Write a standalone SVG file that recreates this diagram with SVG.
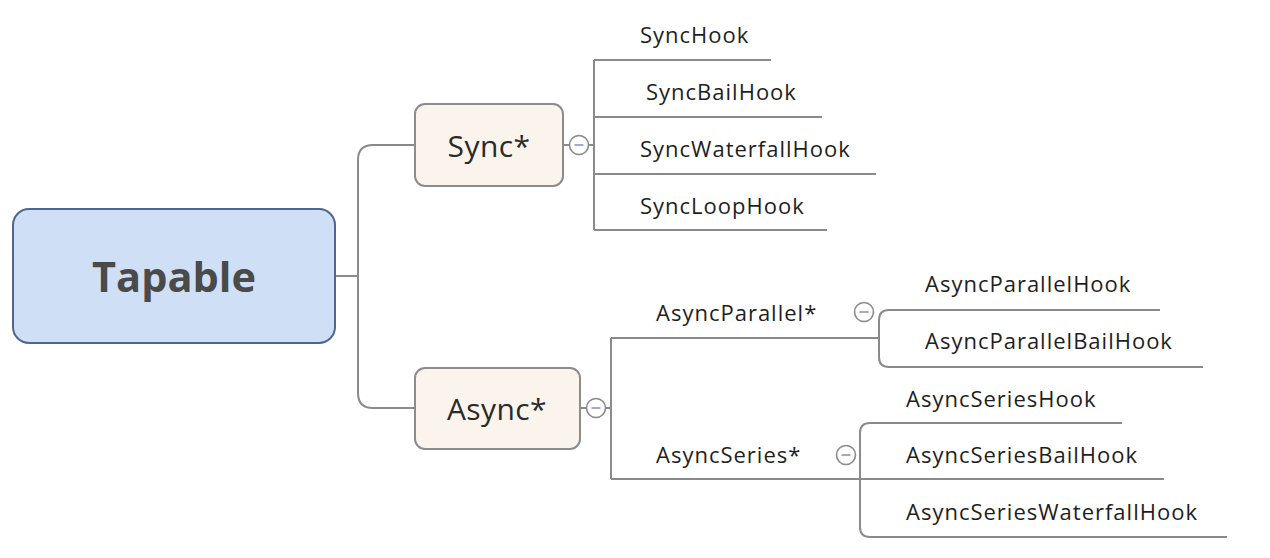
<svg xmlns="http://www.w3.org/2000/svg" width="1270" height="558" viewBox="0 0 1270 558">
  <style>
    .line { fill: none; stroke: #8a8a8a; stroke-width: 2; }
    .root { fill: #cfdff6; stroke: #4f6690; stroke-width: 2; }
    .topic { fill: #faf4ec; stroke: #8c8c8c; stroke-width: 2; }
    .root-text { font-family: "Open Sans", "Liberation Sans", sans-serif; font-size: 41.5px; font-weight: bold; fill: #4a4a4a; text-anchor: middle; }
    .topic-text { font-family: "Open Sans", "Liberation Sans", sans-serif; font-size: 30px; letter-spacing: 0.4px; fill: #2a2a2a; text-anchor: middle; }
    .leaf-text { font-family: "Open Sans", "Liberation Sans", sans-serif; font-size: 22px; letter-spacing: 1px; fill: #1e1e1e; }
    .toggle { fill: #ffffff; stroke: #8a8a8a; stroke-width: 1.6; }
    .minus { stroke: #8f93c2; stroke-width: 1.6; }
  </style>
  <defs>
    <g id="collapse">
      <circle class="toggle" cx="0" cy="0" r="9.5"/>
      <line class="minus" x1="-4.5" y1="0" x2="4.5" y2="0"/>
    </g>
  </defs>
  <rect width="1270" height="558" fill="#ffffff"/>

  <!-- connectors -->
  <g id="connectors">
    <!-- root to Sync* / Async* -->
    <path class="line" d="M335,276 H358"/>
    <path class="line" d="M415,145 H373 Q358,145 358,160 V393 Q358,408 373,408 H415"/>
    <!-- Sync* to its hooks -->
    <path class="line" d="M563,145 H594"/>
    <path class="line" d="M594,60 V230"/>
    <!-- Async* to its groups -->
    <path class="line" d="M580,408 H611"/>
    <path class="line" d="M611,338 V479"/>
    <path class="line" d="M611,338 H879"/>
    <path class="line" d="M611,479 H860"/>
    <!-- AsyncParallel* bracket -->
    <path class="line" d="M879,320 Q879,310 889,310"/>
    <path class="line" d="M879,320 V357 Q879,367 889,367"/>
    <!-- AsyncSeries* bracket -->
    <path class="line" d="M860,433 Q860,423 870,423"/>
    <path class="line" d="M860,433 V527 Q860,537 870,537"/>
  </g>

  <!-- root -->
  <g id="tapable">
    <rect class="root" x="13" y="209" width="322" height="134" rx="16"/>
    <text class="root-text" x="174" y="292">Tapable</text>
  </g>

  <!-- main topics -->
  <g id="sync">
    <rect class="topic" x="415" y="104" width="148" height="82" rx="10"/>
    <text class="topic-text" x="489" y="157">Sync*</text>
    <use href="#collapse" x="579" y="145"/>
  </g>
  <g id="async">
    <rect class="topic" x="415" y="368" width="165" height="81" rx="10"/>
    <text class="topic-text" x="497" y="420">Async*</text>
    <use href="#collapse" x="596" y="408"/>
  </g>

  <!-- sync hooks -->
  <g id="sync-hook">
    <text class="leaf-text" x="640" y="43">SyncHook</text>
    <path class="line" d="M594,60 H771"/>
  </g>
  <g id="sync-bail-hook">
    <text class="leaf-text" x="646" y="100">SyncBailHook</text>
    <path class="line" d="M594,117 H822"/>
  </g>
  <g id="sync-waterfall-hook">
    <text class="leaf-text" x="640" y="157">SyncWaterfallHook</text>
    <path class="line" d="M594,174 H876"/>
  </g>
  <g id="sync-loop-hook">
    <text class="leaf-text" x="640" y="214">SyncLoopHook</text>
    <path class="line" d="M594,230 H827"/>
  </g>

  <!-- async groups -->
  <g id="async-parallel">
    <text class="leaf-text" x="656" y="321">AsyncParallel*</text>
    <use href="#collapse" x="864" y="312"/>
  </g>
  <g id="async-series">
    <text class="leaf-text" x="656" y="463">AsyncSeries*</text>
    <use href="#collapse" x="846" y="455"/>
  </g>

  <!-- async parallel hooks -->
  <g id="async-parallel-hook">
    <text class="leaf-text" x="925" y="292">AsyncParallelHook</text>
    <path class="line" d="M889,310 H1160"/>
  </g>
  <g id="async-parallel-bail-hook">
    <text class="leaf-text" x="925" y="349">AsyncParallelBailHook</text>
    <path class="line" d="M889,367 H1203"/>
  </g>

  <!-- async series hooks -->
  <g id="async-series-hook">
    <text class="leaf-text" x="906" y="407">AsyncSeriesHook</text>
    <path class="line" d="M870,423 H1122"/>
  </g>
  <g id="async-series-bail-hook">
    <text class="leaf-text" x="906" y="463">AsyncSeriesBailHook</text>
    <path class="line" d="M860,479 H1164"/>
  </g>
  <g id="async-series-waterfall-hook">
    <text class="leaf-text" x="906" y="520">AsyncSeriesWaterfallHook</text>
    <path class="line" d="M870,537 H1227"/>
  </g>
</svg>
